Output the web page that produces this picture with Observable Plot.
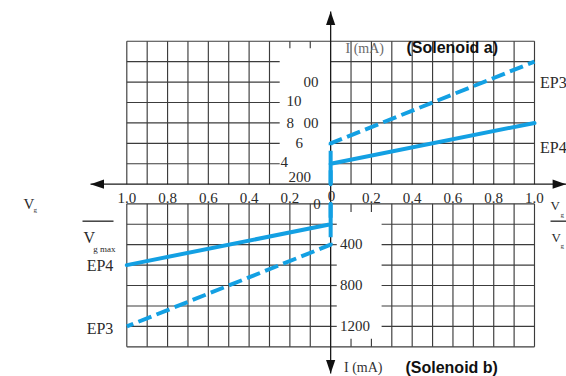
<!DOCTYPE html>
<html>
<head>
<meta charset="utf-8">
<script src="https://cdn.jsdelivr.net/npm/d3@7"></script>
<script src="https://cdn.jsdelivr.net/npm/@observablehq/plot@0.6"></script>
<style>
  body { margin: 0; background: #fff; }
  #chart svg { display: block; }
</style>
</head>
<body>
<div id="chart"></div>
<script>
// Vg / Vgmax ratio: solenoid a to the right, solenoid b to the left
const ratioTicks = [-1, -0.8, -0.6, -0.4, -0.2, 0.2, 0.4, 0.6, 0.8, 1];
const ratioTickText = ["1.0", "0.8", "0.6", "0.4", "0.2", "0.2", "0.4", "0.6", "0.8", "1.0"];
const gridRatios = d3.range(-10, 11).map(i => i / 10);
const currentLevels = [0, 200, 400, 600, 800, 1000, 1200, 1400];

// current tick labels (mA)
const lowerCurrentTicks = [400, 800, 1200];
const upperCurrentText = ["200", "4", "6", "8", "00", "10", "00"];

// solenoid a curves (ratio, current mA)
const ep3aRatio = [0, 0, 1];
const ep3aCurrent = [0, 400, 1200];
const ep4aRatio = [0, 0, 1];
const ep4aCurrent = [0, 200, 600];

// solenoid b curves (ratio, current mA), drawn downward
const ep4bRatio = [0, 0, -1];
const ep4bCurrent = [0, 200, 600];
const ep3bRatio = [0, 0, -1];
const ep3bCurrent = [0, 400, 1200];

// the solenoid b panel hangs below the horizontal axis, offset by GAP
const GAP = 192;
const yb = v => -(v + GAP);

const BLUE = "#13a0e3";
const GRID = "#3c3c3c";
const SERIF = "'Liberation Serif', 'DejaVu Serif', serif";
const SANS = "'Liberation Sans', Arial, sans-serif";

const series = (rs, cs, f) => rs.map((r, i) => ({x: r, y: f(cs[i])}));
const ep3a = series(ep3aRatio, ep3aCurrent, v => v);
const ep4a = series(ep4aRatio, ep4aCurrent, v => v);
const ep4b = series(ep4bRatio, ep4bCurrent, yb);
const ep3b = series(ep3bRatio, ep3bCurrent, yb);

// grid segments for both panels
const segs = [];
const seg = (x1, y1, x2, y2) => segs.push({x1, y1, x2, y2});
for (const r of gridRatios) {
  if (r === 0) continue;
  // solenoid a panel
  if (r > -0.25 && r < 0) seg(r, 1330, r, 1400);
  else seg(r, 0, r, 1400);
  // solenoid b panel
  if (r > 0 && r < 0.25) { seg(r, yb(0), r, yb(80)); seg(r, yb(1320), r, yb(1400)); }
  else seg(r, yb(0), r, yb(1400));
}
for (const v of currentLevels) {
  if (v === 1400) { seg(-1, v, 1, v); seg(-1, yb(v), 1, yb(v)); continue; }
  if (v === 0) { seg(-1, yb(v), 1, yb(v)); continue; }
  seg(-1, v, -0.25, v);
  seg(0, v, 1, v);
  seg(-1, yb(v), 0, yb(v));
  seg(0.25, yb(v), 1, yb(v));
  seg(0, yb(v), 0.03, yb(v));
}

// filled arrowhead with its tip at the anchor, pointing up before rotation
const arrowHead = {
  draw(ctx) {
    ctx.moveTo(0, 0);
    ctx.lineTo(4.6, 13.5);
    ctx.lineTo(-4.6, 13.5);
    ctx.closePath();
  }
};
const arrowTips = [
  {x: 0, y: 1690, a: 0},
  {x: 0, y: -1853, a: 180},
  {x: -1.178, y: 0, a: -90},
  {x: 1.155, y: 0, a: 90}
];

const upperLabelAt = [
  [-0.2068, 65.6, "start"], [-0.246, 212.4, "start"], [-0.1724, 398.5, "start"],
  [-0.2166, 599, "start"], [-0.0596, 599, "end"], [-0.2166, 810, "start"], [-0.0596, 996, "end"]
];
const upperLabels = upperCurrentText.map((t, i) => ({t, x: upperLabelAt[i][0], y: upperLabelAt[i][1], a: upperLabelAt[i][2]}));

const txt = (data, o) => Plot.text(data, {fontFamily: SERIF, fill: "#2a2a2a", ...o});

const chart = Plot.plot({
  width: 566,
  height: 376,
  margin: 0,
  x: {domain: [-1.61956, 1.15698], axis: null},
  y: {domain: [-1882.66, 1798.46], axis: null},
  style: {background: "#fff", overflow: "visible"},
  marks: [
    Plot.link(segs, {x1: "x1", y1: "y1", x2: "x2", y2: "y2", stroke: GRID, strokeWidth: 1.15}),
    // axes
    Plot.link([{x1: -1.178, y1: 0, x2: 1.155, y2: 0}, {x1: 0, y1: 1690, x2: 0, y2: -1853}],
      {x1: "x1", y1: "y1", x2: "x2", y2: "y2", stroke: "#1a1a1a", strokeWidth: 1.3}),
    Plot.dot(arrowTips, {x: "x", y: "y", rotate: "a", symbol: arrowHead, fill: "#111", stroke: "none"}),
    // curves
    Plot.line(ep3a, {x: "x", y: "y", stroke: BLUE, strokeWidth: 4, strokeDasharray: "14,5.5", strokeLinecap: "butt"}),
    Plot.line(ep4a, {x: "x", y: "y", stroke: BLUE, strokeWidth: 4}),
    Plot.line(ep3b, {x: "x", y: "y", stroke: BLUE, strokeWidth: 4, strokeDasharray: "14,5.5", strokeLinecap: "butt"}),
    Plot.line(ep4b, {x: "x", y: "y", stroke: BLUE, strokeWidth: 4}),
    // ratio tick labels
    txt(ratioTicks, {x: d => d, y: () => -135, text: (d, i) => ratioTickText[i], fontSize: 15}),
    txt([0], {x: () => 0.004, y: () => -120, text: () => "0", fontSize: 15}),
    txt([0], {x: () => -0.067, y: () => -199, text: () => "0", fontSize: 15}),
    // current tick labels
    txt(lowerCurrentTicks, {x: () => 0.046, y: d => yb(d), text: d => String(d), textAnchor: "start", fontSize: 15}),
    txt(upperLabels.filter(d => d.a === "start"), {x: "x", y: "y", text: "t", textAnchor: "start", fontSize: 15}),
    txt(upperLabels.filter(d => d.a === "end"), {x: "x", y: "y", text: "t", textAnchor: "end", fontSize: 15}),
    // curve names
    txt(["EP3", "EP4"], {x: () => 1.027, y: (d, i) => [996, 354][i], text: d => d, textAnchor: "start", fontSize: 16}),
    txt(["EP4", "EP3"], {x: () => -1.066, y: (d, i) => [yb(610), yb(1220)][i], text: d => d, textAnchor: "end", fontSize: 16}),
    // axis titles
    txt(["I (mA)"], {x: () => 0.073, y: () => 1333, text: d => d, textAnchor: "start", fontSize: 14, fill: "#6a6a6a"}),
    txt(["I (mA)"], {x: () => 0.0655, y: () => -1795, text: d => d, textAnchor: "start", fontSize: 14, fill: "#333"}),
    Plot.text(["(Solenoid a)"], {x: () => 0.372, y: () => 1333, text: d => d, textAnchor: "start", fontFamily: SANS, fontWeight: "bold", fontSize: 16, fill: "#111"}),
    Plot.text(["(Solenoid b)"], {x: () => 0.367, y: () => -1795, text: d => d, textAnchor: "start", fontFamily: SANS, fontWeight: "bold", fontSize: 16, fill: "#111"}),
    // Vg / Vgmax fraction, left
    txt(["V"], {x: () => -1.5068, y: () => -199, text: d => d, textAnchor: "start", fontSize: 15}),
    txt(["g"], {x: () => -1.4573, y: () => -252, text: d => d, textAnchor: "start", fontSize: 7}),
    txt(["V"], {x: () => -1.2124, y: () => -527, text: d => d, textAnchor: "start", fontSize: 16}),
    txt(["g max"], {x: () => -1.165, y: () => -632, text: d => d, textAnchor: "start", fontSize: 9}),
    // Vg / Vg fraction, right
    txt(["V"], {x: () => 1.0785, y: () => -208, text: d => d, textAnchor: "start", fontSize: 13}),
    txt(["g"], {x: () => 1.1276, y: () => -295, text: d => d, textAnchor: "start", fontSize: 7}),
    txt(["V"], {x: () => 1.0834, y: () => -527, text: d => d, textAnchor: "start", fontSize: 13}),
    txt(["g"], {x: () => 1.1276, y: () => -603, text: d => d, textAnchor: "start", fontSize: 7}),
    Plot.link([{x1: -1.2173, x2: -1.0652}, {x1: 1.0785, x2: 1.157}],
      {x1: "x1", x2: "x2", y1: () => -362, y2: () => -362, stroke: "#222", strokeWidth: 1.3})
  ]
});
document.getElementById("chart").append(chart);
</script>
</body>
</html>
